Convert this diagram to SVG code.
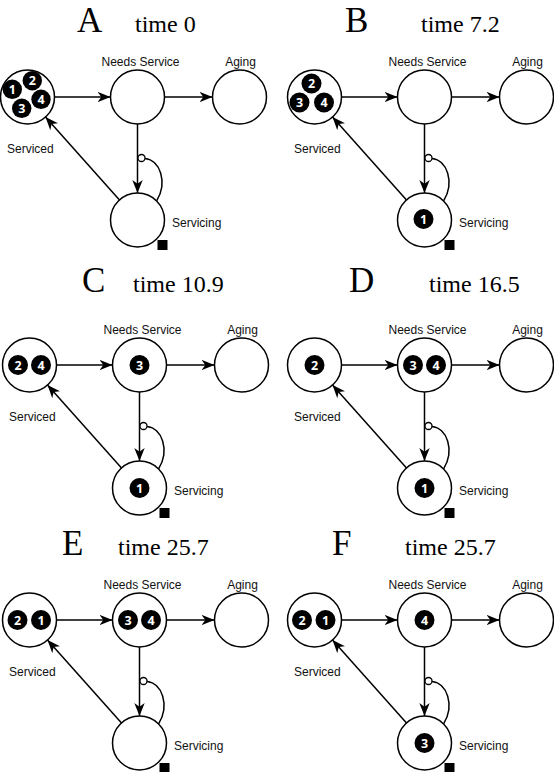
<svg xmlns="http://www.w3.org/2000/svg" width="554" height="772" viewBox="0 0 554 772">
<defs>
<style>
.bg{fill:#fff}
.place{fill:#fff;stroke:#000;stroke-width:1.5}
.lbl{font-family:"Liberation Sans",Arial,sans-serif;font-size:12px;fill:#111}
.mid{text-anchor:middle}
.ttl{font-family:"Liberation Serif","Times New Roman",serif;fill:#000}
.big{font-size:35px}
.tm{font-size:24px}
.arc{fill:none;stroke:#000;stroke-width:1.5}
.arr{marker-end:url(#ah)}
.inh{fill:#fff;stroke:#000;stroke-width:1.3}
.tokc{fill:#000}
.tokt{font-family:"Open Sans","DejaVu Sans",sans-serif;font-weight:bold;font-size:12.5px;fill:#fff;text-anchor:middle}
.sq{fill:#000}
</style>
<marker id="ah" markerUnits="userSpaceOnUse" markerWidth="14" markerHeight="12" viewBox="0 0 14 12" refX="13" refY="6" orient="auto">
<path d="M0,0.8 L13,6 L0,11.2 L3.8,6 Z" fill="#000"/>
</marker>
</defs>
<rect class="bg" x="0" y="0" width="554" height="772"/>

<!-- Titles -->
<g id="titles">
<text class="ttl big" x="77" y="32">A</text><text class="ttl tm" x="135" y="32">time 0</text>
<text class="ttl big" x="345" y="32">B</text><text class="ttl tm" x="421" y="32">time 7.2</text>
<text class="ttl big" x="82" y="292">C</text><text class="ttl tm" x="133" y="292">time 10.9</text>
<text class="ttl big" x="349" y="292">D</text><text class="ttl tm" x="429" y="292">time 16.5</text>
<text class="ttl big" x="62" y="555">E</text><text class="ttl tm" x="118" y="555">time 25.7</text>
<text class="ttl big" x="332" y="555">F</text><text class="ttl tm" x="405" y="555">time 25.7</text>
</g>

<!-- Panel A -->
<g id="panelA" transform="translate(27.5,97)">
<g id="A-connectors">
<line class="arc arr" x1="27" y1="0" x2="83" y2="0"/>
<line class="arc arr" x1="137" y1="0" x2="185" y2="0"/>
<line class="arc arr" x1="110" y1="27" x2="110" y2="96"/>
<line class="arc arr" x1="92" y1="102.9" x2="18" y2="20.1"/>
<path class="arc" d="M117.5,61.5 C132.5,63 140.5,85 129.1,103.9"/>
<circle class="inh" cx="114" cy="61" r="3.5"/>
</g>
<g id="A-serviced"><circle class="place" cx="0" cy="0" r="27"/><text class="lbl" x="-20.5" y="55.5">Serviced</text>
<circle class="tokc" cx="-15.2" cy="-7.7" r="9.7"/><text class="tokt" x="-15.2" y="-3.3">1</text>
<circle class="tokc" cx="4.8" cy="-16.3" r="9.7"/><text class="tokt" x="4.8" y="-11.9">2</text>
<circle class="tokc" cx="13.5" cy="2.3" r="9.7"/><text class="tokt" x="13.5" y="6.7">4</text>
<circle class="tokc" cx="-5.8" cy="11.3" r="9.7"/><text class="tokt" x="-5.8" y="15.7">3</text>
</g>
<g id="A-needs"><circle class="place" cx="110" cy="0" r="27"/><text class="lbl mid" x="113" y="-31.5">Needs Service</text></g>
<g id="A-aging"><circle class="place" cx="212" cy="0" r="27"/><text class="lbl mid" x="213" y="-31.5">Aging</text></g>
<g id="A-servicing"><circle class="place" cx="110" cy="123" r="27"/><text class="lbl" x="144.5" y="129.5">Servicing</text><rect class="sq" x="130" y="143" width="10" height="10"/></g>
</g>

<!-- Panel B -->
<g id="panelB" transform="translate(314.5,97)">
<g id="B-connectors">
<line class="arc arr" x1="27" y1="0" x2="83" y2="0"/>
<line class="arc arr" x1="137" y1="0" x2="185" y2="0"/>
<line class="arc arr" x1="110" y1="27" x2="110" y2="96"/>
<line class="arc arr" x1="92" y1="102.9" x2="18" y2="20.1"/>
<path class="arc" d="M117.5,61.5 C132.5,63 140.5,85 129.1,103.9"/>
<circle class="inh" cx="114" cy="61" r="3.5"/>
</g>
<g id="B-serviced"><circle class="place" cx="0" cy="0" r="27"/><text class="lbl" x="-20.5" y="55.5">Serviced</text>
<circle class="tokc" cx="-3" cy="-13.5" r="10"/><text class="tokt" x="-3" y="-9">2</text>
<circle class="tokc" cx="-15" cy="5.5" r="10"/><text class="tokt" x="-15" y="10">3</text>
<circle class="tokc" cx="9.5" cy="5.5" r="10"/><text class="tokt" x="9.5" y="10">4</text>
</g>
<g id="B-needs"><circle class="place" cx="110" cy="0" r="27"/><text class="lbl mid" x="113" y="-31.5">Needs Service</text></g>
<g id="B-aging"><circle class="place" cx="212" cy="0" r="27"/><text class="lbl mid" x="213" y="-31.5">Aging</text></g>
<g id="B-servicing"><circle class="place" cx="110" cy="123" r="27"/><text class="lbl" x="144.5" y="129.5">Servicing</text><rect class="sq" x="130" y="143" width="10" height="10"/>
<circle class="tokc" cx="109" cy="122" r="10"/><text class="tokt" x="109" y="126.5">1</text>
</g>
</g>

<!-- Panel C -->
<g id="panelC" transform="translate(29.5,365)">
<g id="C-connectors">
<line class="arc arr" x1="27" y1="0" x2="83" y2="0"/>
<line class="arc arr" x1="137" y1="0" x2="185" y2="0"/>
<line class="arc arr" x1="110" y1="27" x2="110" y2="96"/>
<line class="arc arr" x1="92" y1="102.9" x2="18" y2="20.1"/>
<path class="arc" d="M117.5,61.5 C132.5,63 140.5,85 129.1,103.9"/>
<circle class="inh" cx="114" cy="61" r="3.5"/>
</g>
<g id="C-serviced"><circle class="place" cx="0" cy="0" r="27"/><text class="lbl" x="-20.5" y="55.5">Serviced</text>
<circle class="tokc" cx="-11.5" cy="0" r="10"/><text class="tokt" x="-11.5" y="4.5">2</text>
<circle class="tokc" cx="11.5" cy="0" r="10"/><text class="tokt" x="11.5" y="4.5">4</text>
</g>
<g id="C-needs"><circle class="place" cx="110" cy="0" r="27"/><text class="lbl mid" x="113" y="-31.5">Needs Service</text>
<circle class="tokc" cx="110" cy="0" r="10"/><text class="tokt" x="110" y="4.5">3</text>
</g>
<g id="C-aging"><circle class="place" cx="212" cy="0" r="27"/><text class="lbl mid" x="213" y="-31.5">Aging</text></g>
<g id="C-servicing"><circle class="place" cx="110" cy="123" r="27"/><text class="lbl" x="144.5" y="129.5">Servicing</text><rect class="sq" x="130" y="143" width="10" height="10"/>
<circle class="tokc" cx="110" cy="123" r="10"/><text class="tokt" x="110" y="127.5">1</text>
</g>
</g>

<!-- Panel D -->
<g id="panelD" transform="translate(314.5,365)">
<g id="D-connectors">
<line class="arc arr" x1="27" y1="0" x2="83" y2="0"/>
<line class="arc arr" x1="137" y1="0" x2="185" y2="0"/>
<line class="arc arr" x1="110" y1="27" x2="110" y2="96"/>
<line class="arc arr" x1="92" y1="102.9" x2="18" y2="20.1"/>
<path class="arc" d="M117.5,61.5 C132.5,63 140.5,85 129.1,103.9"/>
<circle class="inh" cx="114" cy="61" r="3.5"/>
</g>
<g id="D-serviced"><circle class="place" cx="0" cy="0" r="27"/><text class="lbl" x="-20.5" y="55.5">Serviced</text>
<circle class="tokc" cx="0" cy="0" r="10"/><text class="tokt" x="0" y="4.5">2</text>
</g>
<g id="D-needs"><circle class="place" cx="110" cy="0" r="27"/><text class="lbl mid" x="113" y="-31.5">Needs Service</text>
<circle class="tokc" cx="98.5" cy="0" r="10"/><text class="tokt" x="98.5" y="4.5">3</text>
<circle class="tokc" cx="121.5" cy="0" r="10"/><text class="tokt" x="121.5" y="4.5">4</text>
</g>
<g id="D-aging"><circle class="place" cx="212" cy="0" r="27"/><text class="lbl mid" x="213" y="-31.5">Aging</text></g>
<g id="D-servicing"><circle class="place" cx="110" cy="123" r="27"/><text class="lbl" x="144.5" y="129.5">Servicing</text><rect class="sq" x="130" y="143" width="10" height="10"/>
<circle class="tokc" cx="110" cy="123" r="10"/><text class="tokt" x="110" y="127.5">1</text>
</g>
</g>

<!-- Panel E -->
<g id="panelE" transform="translate(29.5,620)">
<g id="E-connectors">
<line class="arc arr" x1="27" y1="0" x2="83" y2="0"/>
<line class="arc arr" x1="137" y1="0" x2="185" y2="0"/>
<line class="arc arr" x1="110" y1="27" x2="110" y2="96"/>
<line class="arc arr" x1="92" y1="102.9" x2="18" y2="20.1"/>
<path class="arc" d="M117.5,61.5 C132.5,63 140.5,85 129.1,103.9"/>
<circle class="inh" cx="114" cy="61" r="3.5"/>
</g>
<g id="E-serviced"><circle class="place" cx="0" cy="0" r="27"/><text class="lbl" x="-20.5" y="55.5">Serviced</text>
<circle class="tokc" cx="-12" cy="0" r="10"/><text class="tokt" x="-12" y="4.5">2</text>
<circle class="tokc" cx="11.5" cy="0" r="10"/><text class="tokt" x="11.5" y="4.5">1</text>
</g>
<g id="E-needs"><circle class="place" cx="110" cy="0" r="27"/><text class="lbl mid" x="113" y="-31.5">Needs Service</text>
<circle class="tokc" cx="98.5" cy="0" r="10"/><text class="tokt" x="98.5" y="4.5">3</text>
<circle class="tokc" cx="121.5" cy="0" r="10"/><text class="tokt" x="121.5" y="4.5">4</text>
</g>
<g id="E-aging"><circle class="place" cx="212" cy="0" r="27"/><text class="lbl mid" x="213" y="-31.5">Aging</text></g>
<g id="E-servicing"><circle class="place" cx="110" cy="123" r="27"/><text class="lbl" x="144.5" y="129.5">Servicing</text><rect class="sq" x="130" y="143" width="10" height="10"/></g>
</g>

<!-- Panel F -->
<g id="panelF" transform="translate(314.5,620)">
<g id="F-connectors">
<line class="arc arr" x1="27" y1="0" x2="83" y2="0"/>
<line class="arc arr" x1="137" y1="0" x2="185" y2="0"/>
<line class="arc arr" x1="110" y1="27" x2="110" y2="96"/>
<line class="arc arr" x1="92" y1="102.9" x2="18" y2="20.1"/>
<path class="arc" d="M117.5,61.5 C132.5,63 140.5,85 129.1,103.9"/>
<circle class="inh" cx="114" cy="61" r="3.5"/>
</g>
<g id="F-serviced"><circle class="place" cx="0" cy="0" r="27"/><text class="lbl" x="-20.5" y="55.5">Serviced</text>
<circle class="tokc" cx="-12.5" cy="0" r="10"/><text class="tokt" x="-12.5" y="4.5">2</text>
<circle class="tokc" cx="11" cy="0" r="10"/><text class="tokt" x="11" y="4.5">1</text>
</g>
<g id="F-needs"><circle class="place" cx="110" cy="0" r="27"/><text class="lbl mid" x="113" y="-31.5">Needs Service</text>
<circle class="tokc" cx="110" cy="0" r="10"/><text class="tokt" x="110" y="4.5">4</text>
</g>
<g id="F-aging"><circle class="place" cx="212" cy="0" r="27"/><text class="lbl mid" x="213" y="-31.5">Aging</text></g>
<g id="F-servicing"><circle class="place" cx="110" cy="123" r="27"/><text class="lbl" x="144.5" y="129.5">Servicing</text><rect class="sq" x="130" y="143" width="10" height="10"/>
<circle class="tokc" cx="110" cy="123" r="10"/><text class="tokt" x="110" y="127.5">3</text>
</g>
</g>
</svg>
